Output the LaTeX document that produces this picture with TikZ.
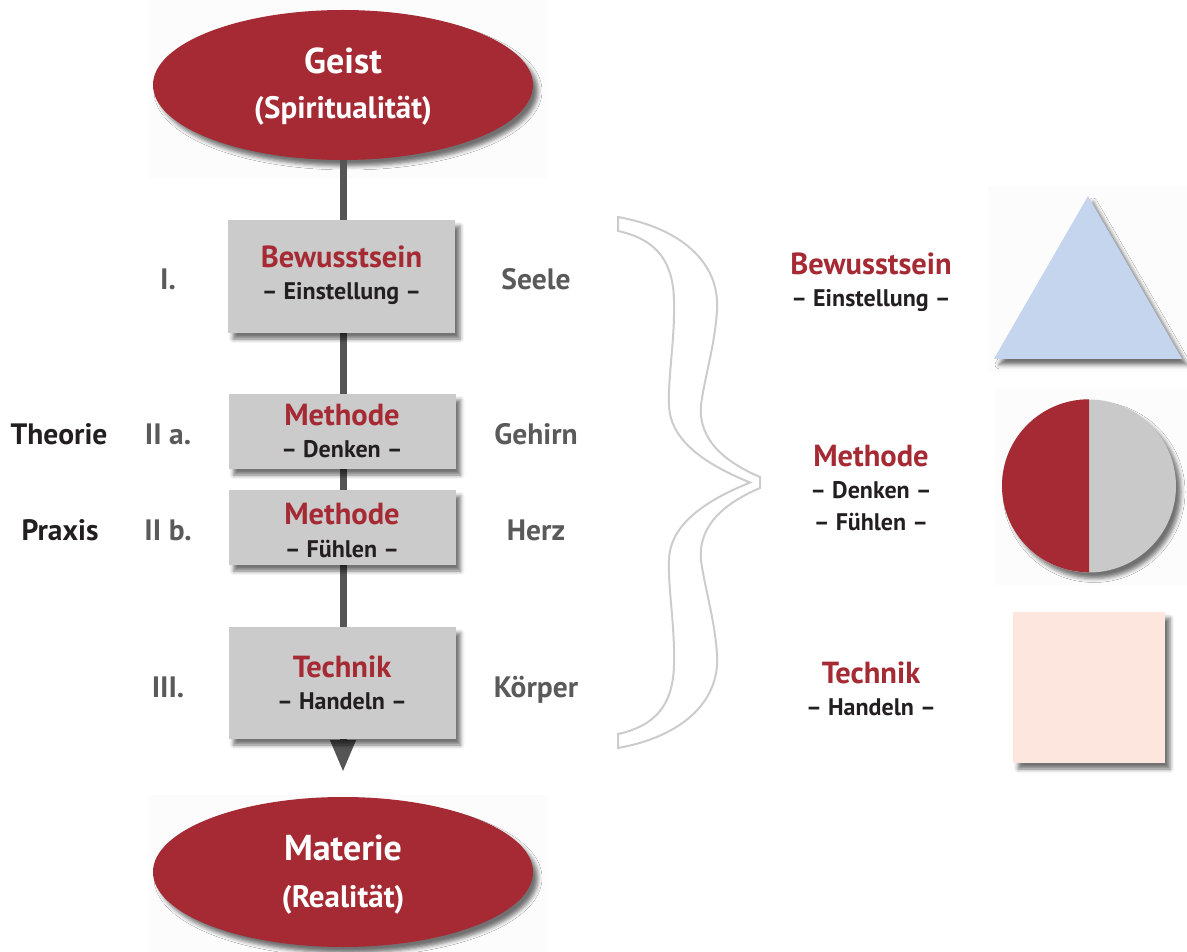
\documentclass[tikz,border=0pt]{standalone}
\usepackage{fontspec}
\setmainfont{PT Sans}
\usetikzlibrary{shadows.blur,arrows.meta,shapes.geometric}
\definecolor{dred}{HTML}{A52A33}
\definecolor{boxgray}{HTML}{CBCBCB}
\definecolor{cgray}{HTML}{C9C9C9}
\definecolor{lgray}{HTML}{5A5A5A}
\definecolor{txt}{HTML}{231F20}
\definecolor{lineg}{HTML}{555555}
\definecolor{tblue}{HTML}{C5D5ED}
\definecolor{spink}{HTML}{FCE6DE}
\definecolor{bracec}{HTML}{CCCCCC}
\definecolor{panel}{HTML}{FCFCFC}
\begin{document}
\begin{tikzpicture}[x=1pt,y=-1pt,
  sh/.style={blur shadow={shadow xshift=5pt,shadow yshift=-6pt,shadow blur radius=4pt,shadow opacity=55}},
  ell/.style={ellipse,fill=dred,minimum width=380pt,minimum height=150pt,inner sep=0pt,sh},
  stepbox/.style={rectangle,fill=boxgray,minimum width=227pt,inner sep=0pt,sh},
  title/.style={anchor=base,text=dred,font=\bfseries\fontsize{30.5}{34}\selectfont,inner sep=0pt},
  sub/.style={anchor=base,text=txt,font=\bfseries\fontsize{24}{27}\selectfont,inner sep=0pt},
  lab/.style={anchor=base,text=lgray,font=\bfseries\fontsize{29.5}{33}\selectfont,inner sep=0pt},
  side/.style={lab,text=txt},
  etxt/.style={anchor=base,text=white,font=\bfseries\fontsize{31}{36}\selectfont,inner sep=0pt},
  ebig/.style={etxt,font=\bfseries\fontsize{36}{40}\selectfont}]
\useasboundingbox (0,0) rectangle (1187,952);

% faint panels
\fill[panel] (148,0) rectangle (548,178);
\fill[panel] (148,795) rectangle (548,952);
\fill[panel] (988,186) rectangle (1187,372);
\fill[panel] (995,388) rectangle (1187,585);

% ellipses
\node[ell] (geist) at (343,85) {};
\node[ebig] (geist1) at (343,74) {Geist};
\node[etxt] (geist2) at (343,119) {(Spiritualität)};
\node[ell] (materie) at (343,872) {};
\node[ebig] (mat1) at (343,860) {Materie};
\node[etxt] (mat2) at (343,907) {(Realität)};

% main line with arrow (behind boxes)
\coordinate (tipc) at (343,772);
\draw[lineg,line width=7pt,-{Triangle[length=32pt,width=24pt]}] (geist.south) -- (tipc);

% boxes
\node[stepbox,minimum height=113pt] (b1) at (341.5,276.5) {};
\node[title] (b1t) at (341.5,268) {Bewusstsein};
\node[sub] (b1s) at (341.5,300) {– Einstellung –};
\node[stepbox,minimum height=75pt] (b2) at (342,431.5) {};
\node[title] (b2t) at (342,425) {Methode};
\node[sub] (b2s) at (342,457) {– Denken –};
\node[stepbox,minimum height=75pt] (b3) at (342,527.5) {};
\node[title] (b3t) at (342,524) {Methode};
\node[sub] (b3s) at (342,557) {– Fühlen –};
\node[stepbox,minimum height=112pt] (b4) at (342,683) {};
\node[title] (b4t) at (342,677) {Technik};
\node[sub] (b4s) at (342,709) {– Handeln –};

% left labels
\node[lab] (l1) at (168,290) {I.};
\node[lab] (l2) at (168,444) {II a.};
\node[lab] (l3) at (168,540) {II b.};
\node[lab] (l4) at (168,697) {III.};
\node[side] (theo) at (59,444) {Theorie};
\node[side] (prax) at (60,540) {Praxis};

% right labels
\node[lab] (r1) at (536,290) {Seele};
\node[lab] (r2) at (536,444) {Gehirn};
\node[lab] (r3) at (536,540) {Herz};
\node[lab] (r4) at (536,697) {Körper};

% brace
\draw[bracec,line width=2pt,line join=miter]
  (618,217) .. controls (680,228) and (720,262) .. (717,310)
  .. controls (715,345) and (705,375) .. (701,405)
  .. controls (698,440) and (725,462) .. (760,477)
  -- (760,488)
  .. controls (725,503) and (698,525) .. (701,560)
  .. controls (705,590) and (715,620) .. (717,655)
  .. controls (720,703) and (680,737) .. (618,748)
  -- (618,734)
  .. controls (650,727) and (673,710) .. (674,665)
  .. controls (675,625) and (668,590) .. (669,560)
  .. controls (670,520) and (715,497) .. (750,482.5)
  .. controls (715,468) and (670,445) .. (669,405)
  .. controls (668,375) and (675,340) .. (674,300)
  .. controls (673,255) and (650,238) .. (618,231) -- cycle;

% right texts
\node[title] (t1) at (871,275) {Bewusstsein};
\node[sub] (s1) at (871,307) {– Einstellung –};
\node[title] (t2) at (871,466) {Methode};
\node[sub] (s2) at (871,498) {– Denken –};
\node[sub] (s3) at (871,530) {– Fühlen –};
\node[title] (t3) at (871,683) {Technik};
\node[sub] (s4) at (871,715) {– Handeln –};

% shapes
\node[regular polygon,regular polygon sides=3,minimum size=217pt,inner sep=0pt,fill=tblue,sh] (tri) at (1088,304.5) {};
\node[ellipse,fill=cgray,minimum width=174pt,minimum height=173pt,inner sep=0pt,sh] (circ) at (1089,486) {};
\fill[dred] (circ.north) arc[start angle=270,end angle=90,x radius=87,y radius=86.5] -- cycle;
\node[rectangle,fill=spink,minimum width=152pt,minimum height=151pt,inner sep=0pt,sh] (sq) at (1089,687.5) {};
\end{tikzpicture}
\end{document}
